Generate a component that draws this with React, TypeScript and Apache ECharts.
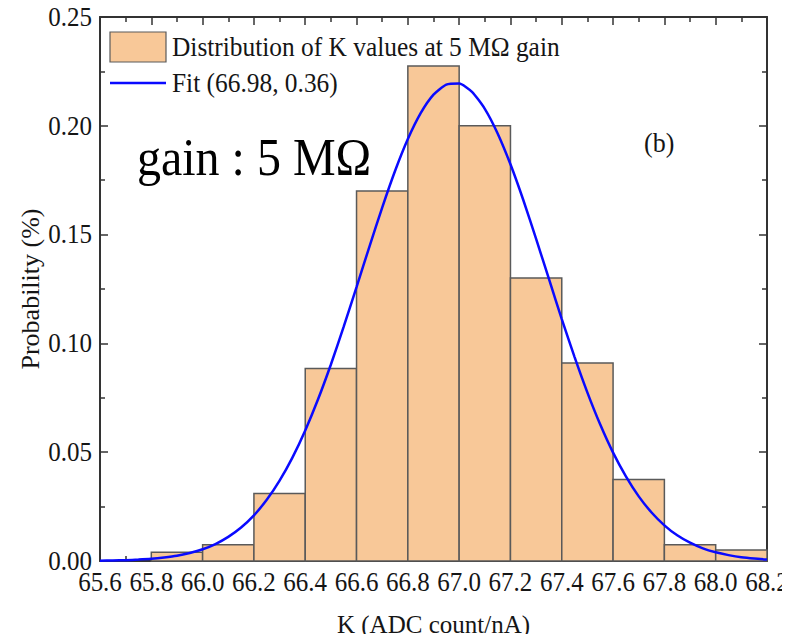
import React, { useEffect, useRef } from "react";
import * as echarts from "echarts";

// Histogram bins: start of each bin and probability
const binStarts = [65.8, 66.0, 66.2, 66.4, 66.6, 66.8, 67.0, 67.2, 67.4, 67.6, 67.8, 68.0];
const binWidth = 0.2;
const binProbs = [0.004, 0.0075, 0.031, 0.0885, 0.17, 0.2275, 0.2, 0.13, 0.091, 0.0375, 0.0075, 0.005];

// Fit curve points
const fitX = [65.6, 65.65, 65.7, 65.75, 65.8, 65.85, 65.9, 65.95, 66.0, 66.05, 66.1, 66.15, 66.2, 66.25, 66.3, 66.35, 66.4, 66.45, 66.5, 66.55, 66.6, 66.65, 66.7, 66.75, 66.8, 66.85, 66.9, 66.95, 67.0, 67.05, 67.1, 67.15, 67.2, 67.25, 67.3, 67.35, 67.4, 67.45, 67.5, 67.55, 67.6, 67.65, 67.7, 67.75, 67.8, 67.85, 67.9, 67.95, 68.0, 68.05, 68.1, 68.15, 68.2];
const fitY = [0.00014, 0.00024, 0.0004, 0.00064, 0.001, 0.0016, 0.0024, 0.0037, 0.0054, 0.0078, 0.0111, 0.0154, 0.021, 0.0281, 0.0369, 0.0475, 0.06, 0.0743, 0.0903, 0.1077, 0.1259, 0.1444, 0.1624, 0.1792, 0.1939, 0.2058, 0.2143, 0.2189, 0.2194, 0.2156, 0.2078, 0.1965, 0.1823, 0.1659, 0.148, 0.1296, 0.1112, 0.0937, 0.0774, 0.0627, 0.0498, 0.0389, 0.0297, 0.0223, 0.0164, 0.0118, 0.0084, 0.0058, 0.004, 0.0027, 0.0017, 0.0011, 0.0007];

// Tick labels
const xTicks = [65.6, 65.8, 66.0, 66.2, 66.4, 66.6, 66.8, 67.0, 67.2, 67.4, 67.6, 67.8, 68.0, 68.2];
const yTicks = [0, 0.05, 0.1, 0.15, 0.2, 0.25];

const histName = "Distribution of K values at 5 MΩ gain";
const fitName = "Fit (66.98, 0.36)";

const FONT = "'Liberation Serif', 'Times New Roman', serif";
const BAR_FILL = "#F8C898";
const BAR_EDGE = "#5a5a5a";
const AXIS = "#333";
const BLUE = "#0a0aff";
const TXT = "#151515";
const SY = 1.08;

export default function App() {
  const ref = useRef<HTMLDivElement>(null);
  useEffect(() => {
    const chart = echarts.init(ref.current!, null, { renderer: "svg" });
    const histData = binStarts.map((s, i) => [s, s + binWidth, binProbs[i]]);
    const fitData = fitX.map((x, i) => [x, fitY[i]]);
    const axisCommon = {
      axisLine: { show: true, onZero: false, lineStyle: { color: AXIS, width: 2 } },
      axisTick: { show: true, inside: true, length: 8, lineStyle: { color: AXIS, width: 1.5 } },
      minorTick: { show: true, splitNumber: 2, length: 5, lineStyle: { color: AXIS, width: 1.5 } },
      splitLine: { show: false },
      axisLabel: { show: false },
    };
    chart.setOption({
      animation: false,
      backgroundColor: "#fff",
      textStyle: { fontFamily: FONT },
      grid: { left: 100, right: 23, top: 17, bottom: 81, outerBoundsMode: "none", containLabel: false },
      xAxis: [
        {
          type: "value",
          min: 65.6,
          max: 68.2,
          interval: 0.2,
          ...axisCommon,
          name: "K (ADC count/nA)",
          nameLocation: "middle",
          nameGap: 51,
          nameTextStyle: { fontFamily: FONT, fontSize: 25, color: TXT },
        },
        {
          type: "value",
          position: "top",
          min: 65.6,
          max: 68.2,
          interval: 0.2,
          ...axisCommon,
        },
      ],
      yAxis: [
        {
          type: "value",
          min: 0,
          max: 0.25,
          interval: 0.05,
          ...axisCommon,
          name: "Probability (%)",
          nameLocation: "middle",
          nameGap: 57,
          nameTextStyle: { fontFamily: FONT, fontSize: 26, color: TXT },
        },
        {
          type: "value",
          position: "right",
          min: 0,
          max: 0.25,
          interval: 0.05,
          ...axisCommon,
        },
      ],
      series: [
        {
          name: histName,
          type: "custom",
          xAxisIndex: 0,
          yAxisIndex: 0,
          data: histData,
          encode: { x: [0, 1], y: 2 },
          renderItem: (params: any, api: any) => {
            const p0 = api.coord([api.value(0), api.value(2)]);
            const p1 = api.coord([api.value(1), 0]);
            return {
              type: "rect",
              shape: { x: p0[0], y: p0[1], width: p1[0] - p0[0], height: p1[1] - p0[1] },
              style: { fill: BAR_FILL, stroke: BAR_EDGE, lineWidth: 1.5 },
            };
          },
          z: 2,
        },
        {
          name: fitName,
          type: "line",
          xAxisIndex: 0,
          yAxisIndex: 0,
          data: fitData,
          smooth: 0.2,
          symbol: "none",
          lineStyle: { color: BLUE, width: 2.5 },
          itemStyle: { color: BLUE },
          z: 3,
        },
      ],
    });

    // Tick labels placed through the axes' own scale
    const toPx = (v: [number, number]) => chart.convertToPixel({ gridIndex: 0 }, v) as number[];
    const xLabelEls = xTicks.map((v) => {
      const p = toPx([v, 0]);
      return {
        type: "text",
        x: p[0],
        y: p[1] + 21,
        scaleY: SY,
        style: { text: v.toFixed(1), font: `25px ${FONT}`, fill: TXT, align: "center", verticalAlign: "middle" },
        z: 10,
      };
    });
    const yLabelEls = yTicks.map((v) => {
      const p = toPx([65.6, v]);
      return {
        type: "text",
        x: p[0] - 8,
        y: p[1],
        scaleY: SY,
        style: { text: v.toFixed(2), font: `25px ${FONT}`, fill: TXT, align: "right", verticalAlign: "middle" },
        z: 10,
      };
    });

    chart.setOption({
      graphic: [
        ...xLabelEls,
        ...yLabelEls,
        {
          type: "rect",
          shape: { x: 110, y: 32, width: 56, height: 30 },
          style: { fill: BAR_FILL, stroke: BAR_EDGE, lineWidth: 1.2 },
          z: 10,
        },
        {
          type: "text",
          x: 172,
          y: 47,
          scaleY: SY,
          style: { text: histName, font: `25.4px ${FONT}`, fill: TXT, verticalAlign: "middle" },
          z: 10,
        },
        {
          type: "line",
          shape: { x1: 110, y1: 83, x2: 166, y2: 83 },
          style: { stroke: BLUE, lineWidth: 2.5 },
          z: 10,
        },
        {
          type: "text",
          x: 172,
          y: 83,
          scaleY: SY,
          style: { text: fitName, font: `25.4px ${FONT}`, fill: TXT, verticalAlign: "middle" },
          z: 10,
        },
        {
          type: "text",
          x: 137,
          y: 157,
          scaleY: SY,
          style: { text: "gain : 5 MΩ", font: `48px ${FONT}`, fill: "#000", verticalAlign: "middle" },
          z: 10,
        },
        {
          type: "text",
          x: 644,
          y: 143,
          scaleY: SY,
          style: { text: "(b)", font: `26px ${FONT}`, fill: TXT, verticalAlign: "middle" },
          z: 10,
        },
      ],
    });
    return () => chart.dispose();
  }, []);
  return <div ref={ref} style={{ width: 790, height: 642, margin: -8 }} />;
}
